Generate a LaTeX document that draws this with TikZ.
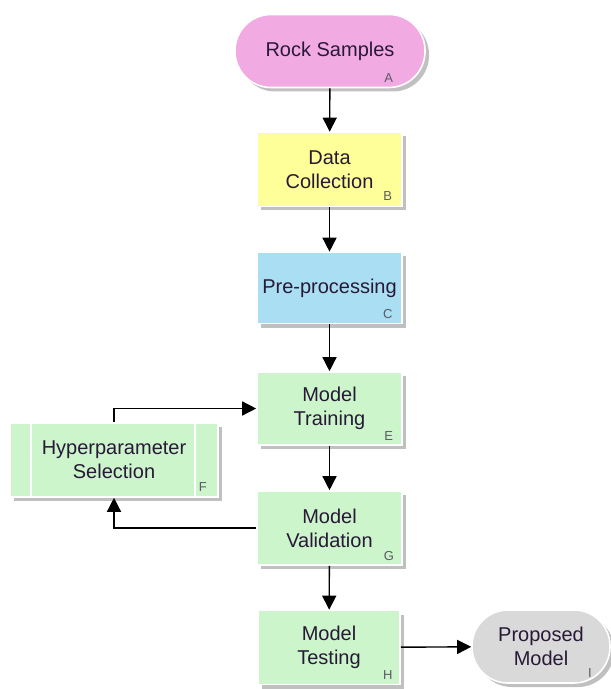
\documentclass[tikz,border=0pt]{standalone}
\usepackage{xcolor}
\usepackage{fontspec}
\setmainfont{Liberation Sans}
\usetikzlibrary{arrows.meta,shadows,calc}

\definecolor{rockpink}{RGB}{242,170,226}
\definecolor{datayellow}{RGB}{255,255,153}
\definecolor{prepblue}{RGB}{170,222,243}
\definecolor{modelgreen}{RGB}{204,245,204}
\definecolor{resultgray}{RGB}{217,217,217}
\definecolor{textdark}{RGB}{40,25,55}
\definecolor{tagcolor}{RGB}{90,90,100}

\tikzset{
  box/.style={draw=white, thick, fill=#1, minimum width=72.5pt, minimum height=37pt,
    inner sep=2pt, align=center, text=textdark, font=\fontsize{10}{12}\selectfont,
    drop shadow={shadow xshift=2pt, shadow yshift=-2pt, opacity=0.35, fill=black!70}},
  pill/.style={box=#1, rounded corners=18pt},
  tag/.style={font=\fontsize{6.5}{7}\selectfont, text=tagcolor, inner sep=0pt},
  flow/.style={-{Triangle[width=7pt,length=7pt]}, line width=0.7pt}
}

\begin{document}
\begin{tikzpicture}[x=0.5pt, y=-0.5pt]
    \useasboundingbox[fill=white] (0,0) rectangle (610,689);

    % main column
    \node[pill=rockpink, minimum width=95pt, minimum height=36.5pt] (A) at (330,51) {Rock Samples};
    \node[box=datayellow] (B) at (329.5,169.5) {Data\\Collection};
    \node[box=prepblue, minimum height=35.5pt] (C) at (329.5,288) {Pre-processing};
    \node[box=modelgreen, minimum height=36.5pt] (E) at (329.5,408.5) {Model\\Training};
    \node[box=modelgreen] (G) at (329.5,528) {Model\\Validation};
    \node[box=modelgreen, minimum width=71pt] (H) at (329,647.5) {Model\\Testing};
    \node[pill=resultgray, minimum width=69pt, minimum height=36.5pt] (I) at (541,646.5) {Proposed\\Model};

    % side loop
    \node[box=modelgreen, minimum width=104pt, minimum height=37pt] (F) at (114,460) {Hyperparameter\\Selection};
    \draw[white, thick] ($(F.north west)+(22,0)$) -- ($(F.south west)+(22,0)$);
    \draw[white, thick] ($(F.north east)+(-24,0)$) -- ($(F.south east)+(-24,0)$);

    % corner letters
    \node[tag] (tA) at ($(A.south east)+(-37,-10)$) {A};
    \node[tag] (tB) at ($(B.south east)+(-15,-11)$) {B};
    \node[tag] (tC) at ($(C.south east)+(-15,-10)$) {C};
    \node[tag] (tE) at ($(E.south east)+(-14,-10)$) {E};
    \node[tag] (tF) at ($(F.south east)+(-16,-11)$) {F};
    \node[tag] (tG) at ($(G.south east)+(-14,-10)$) {G};
    \node[tag] (tH) at ($(H.south east)+(-13,-10)$) {H};
    \node[tag] (tI) at ($(I.south east)+(-21,-11)$) {I};

    % connectors
    \draw[flow] (A) -- (B);
    \draw[flow] (B) -- (C);
    \draw[flow] (C) -- (E);
    \draw[flow] (E) -- (G);
    \draw[flow] (G) -- (H);
    \draw[flow] (H) -- (I);
    \draw[flow] (F.north) |- (E.west);
    \draw[flow] (G.west) -| (F.south);
\end{tikzpicture}
\end{document}
